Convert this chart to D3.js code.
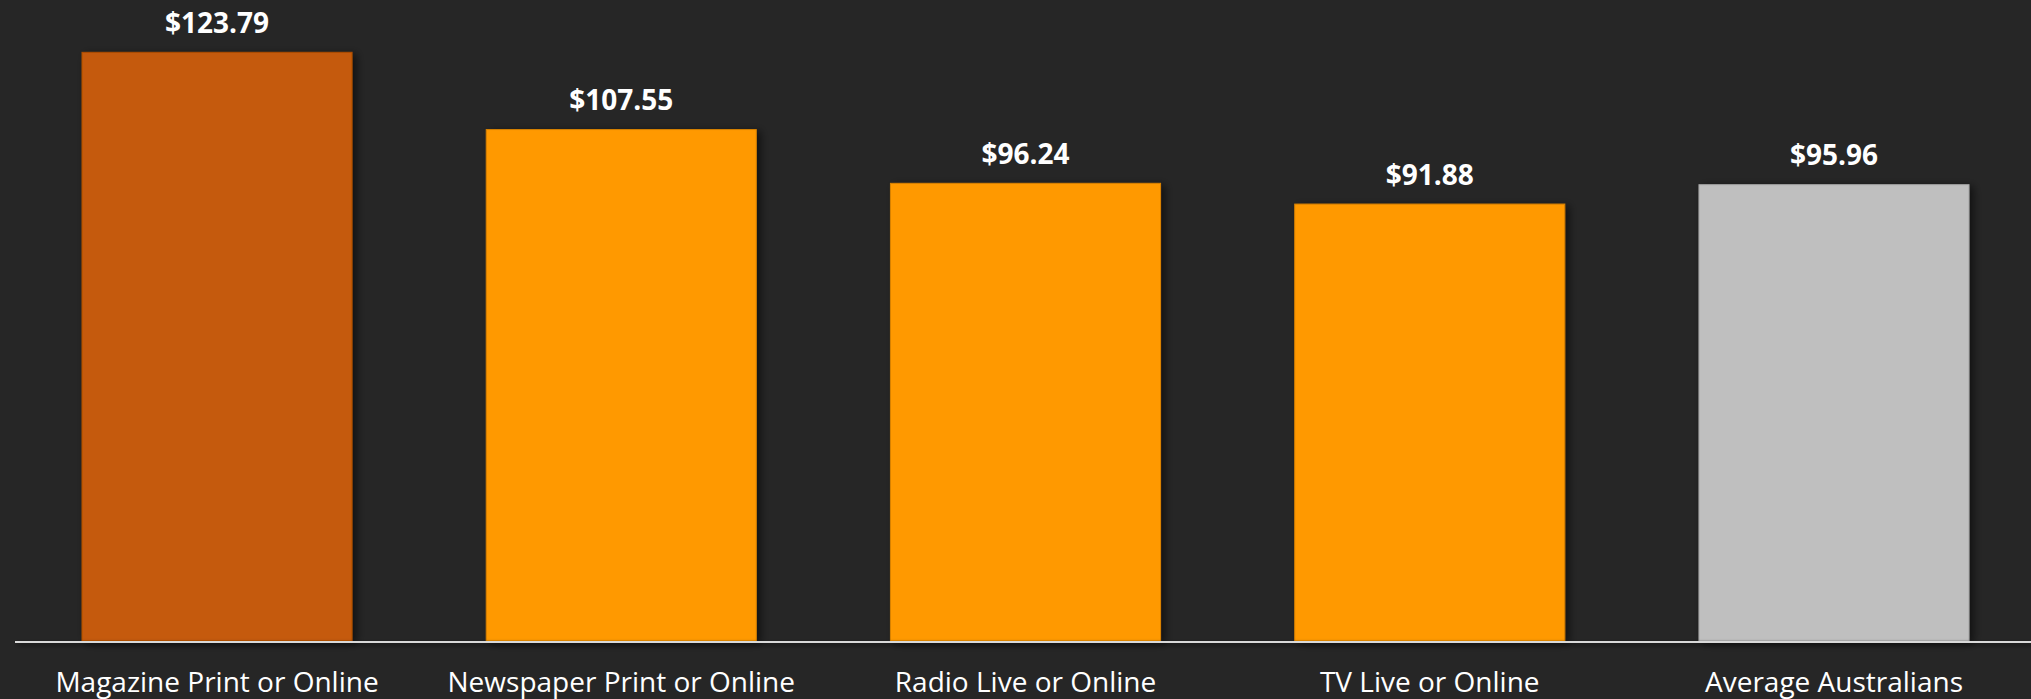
<!DOCTYPE html>
<html>
<head>
<meta charset="utf-8">
<script src="https://cdn.jsdelivr.net/npm/d3@7"></script>
<style>
  html, body { margin: 0; padding: 0; background: #262626; }
  svg { display: block; }
</style>
</head>
<body>
<script>
// Average spend by media audience
const categories = ["Magazine Print or Online", "Newspaper Print or Online", "Radio Live or Online", "TV Live or Online", "Average Australians"];
const values = [123.79, 107.55, 96.24, 91.88, 95.96];
const barColors = ["#C55A08", "#FF9900", "#FF9900", "#FF9900", "#BFBFBF"];
const barStrokes = ["#B04E05", "#D98200", "#D98200", "#D98200", "#A6A6A6"];

const W = 2031, H = 699;
const baseY = 641;

const svg = d3.select("body").append("svg")
  .attr("width", W).attr("height", H);

svg.append("rect").attr("width", W).attr("height", H).attr("fill", "#262626");

const defs = svg.append("defs");
const f = defs.append("filter").attr("id", "shadow")
  .attr("x", "-10%").attr("y", "-10%").attr("width", "130%").attr("height", "130%");
f.append("feDropShadow")
  .attr("dx", 4).attr("dy", 2).attr("stdDeviation", 4)
  .attr("flood-color", "#000").attr("flood-opacity", 0.55);

// Shadow for the baseline, in the axis group's local coordinates
const lineShadow = defs.append("filter").attr("id", "lineShadow")
  .attr("filterUnits", "userSpaceOnUse")
  .attr("x", 0).attr("y", -10).attr("width", W).attr("height", 30);
lineShadow.append("feDropShadow")
  .attr("dx", 2).attr("dy", 2).attr("stdDeviation", 2)
  .attr("flood-color", "#000").attr("flood-opacity", 0.6);

const x = d3.scaleBand()
  .domain(categories)
  .range([82 - 67.1, 1969 + 67.1])
  .paddingInner(0.332)
  .paddingOuter(0.166);

const y = d3.scaleLinear().domain([0, 134.8]).range([baseY, 0]);

svg.append("g").selectAll("rect")
  .data(values)
  .join("rect")
  .attr("x", (d, i) => x(categories[i]))
  .attr("y", d => y(d))
  .attr("width", x.bandwidth())
  .attr("height", d => y(0) - y(d))
  .attr("fill", (d, i) => barColors[i])
  .attr("stroke", (d, i) => barStrokes[i])
  .attr("stroke-width", 1)
  .attr("filter", "url(#shadow)");

// Category axis along the baseline
const axis = d3.axisBottom(x).tickSize(0).tickPadding(0);
const ax = svg.append("g").attr("transform", `translate(0,${baseY})`).call(axis);
ax.select(".domain").remove();
ax.append("line")
  .attr("x1", 15).attr("x2", W).attr("y1", 1).attr("y2", 1)
  .attr("stroke", "#D9D9D9").attr("stroke-width", 2)
  .attr("filter", "url(#lineShadow)");
ax.selectAll(".tick text")
  .attr("y", 51)
  .attr("dy", 0)
  .attr("fill", "#FFFFFF")
  .style("font-family", "'Open Sans', sans-serif")
  .style("font-size", "28px");

// Value labels above bars
svg.append("g").selectAll("text")
  .data(values)
  .join("text")
  .attr("x", (d, i) => x(categories[i]) + x.bandwidth() / 2)
  .attr("y", d => y(d) - 19.5)
  .attr("text-anchor", "middle")
  .attr("fill", "#FFFFFF")
  .style("font-family", "'Open Sans', sans-serif")
  .style("font-weight", "bold")
  .style("font-size", "28px")
  .text(d => "$" + d3.format(".2f")(d));
</script>
</body>
</html>
